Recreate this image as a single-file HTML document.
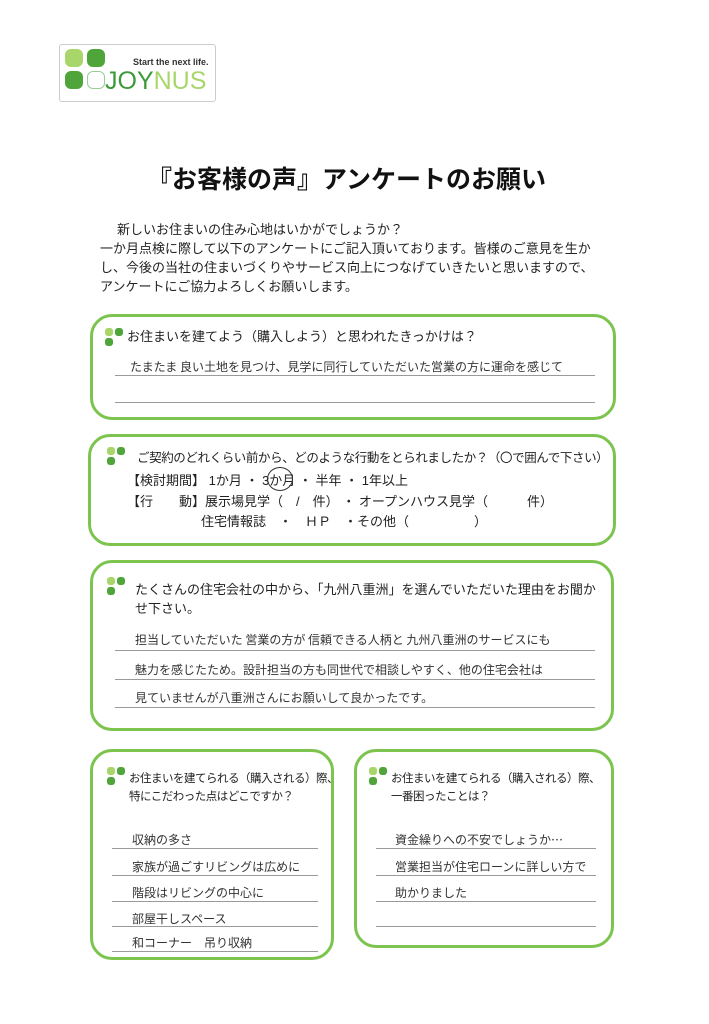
<!DOCTYPE html>
<html><head><meta charset="utf-8"><style>
body{margin:0;width:709px;height:1024px;background:#fff;position:relative;overflow:hidden;font-family:"Liberation Sans","Noto Sans CJK JP",sans-serif;color:#222}
.a{position:absolute;white-space:nowrap}
.box{position:absolute;border:3px solid #7cc44e;border-radius:22px;box-sizing:border-box}
.ic{position:absolute;width:18px;height:18px}
.ic i{position:absolute;width:8px;height:8px;border-radius:3px}
.ln{position:absolute;height:1px;background:#9a9a9a}
.hw{position:absolute;white-space:nowrap;font-family:"WenQuanYi Zen Hei","Noto Sans CJK JP",sans-serif;font-size:12px;color:#333}
.q{font-size:13px}
.s{font-size:11.5px;letter-spacing:-0.5px}
</style></head><body>
<div class="a" style="left:59px;top:44px;width:155px;height:56px;border:1px solid #ccc;border-radius:3px"></div>
<div class="a" style="left:65px;top:49px;width:18px;height:18px;background:#a9d66b;border-radius:6px"></div>
<div class="a" style="left:87px;top:49px;width:18px;height:18px;background:#4fa43a;border-radius:6px"></div>
<div class="a" style="left:65px;top:71px;width:18px;height:18px;background:#4fa43a;border-radius:6px"></div>
<div class="a" style="left:87px;top:71px;width:16px;height:16px;border:1px solid #9c9;border-radius:6px"></div>
<div class="a" style="left:133px;top:57px;font-size:9px;font-weight:bold;color:#333">Start the next life.</div>
<div class="a" style="left:105px;top:67px;font-size:25px;color:#3c9a3a">JOY<span style="color:#a9d66b">NUS</span></div>

<div class="a" style="left:147px;top:160px;font-size:25px;color:#111;font-weight:bold">『お客様の声』アンケートのお願い</div>
<div class="a" style="left:117px;top:219px;font-size:13px">新しいお住まいの住み心地はいかがでしょうか？</div>
<div class="a" style="left:100px;top:238px;font-size:13px">一か月点検に際して以下のアンケートにご記入頂いております。皆様のご意見を生か</div>
<div class="a" style="left:100px;top:257px;font-size:13px">し、今後の当社の住まいづくりやサービス向上につなげていきたいと思いますので、</div>
<div class="a" style="left:100px;top:276px;font-size:13px">アンケートにご協力よろしくお願いします。</div>

<div class="box" style="left:90px;top:314px;width:526px;height:106px"></div>
<div class="ic" style="left:105px;top:328px"><i style="left:0;top:0;background:#a9d66b"></i><i style="left:10px;top:0;background:#4fa43a"></i><i style="left:0;top:10px;background:#4fa43a"></i></div>
<div class="a q" style="left:127px;top:326px">お住まいを建てよう（購入しよう）と思われたきっかけは？</div>
<div class="hw" style="left:130px;top:358px">たまたま 良い土地を見つけ、見学に同行していただいた営業の方に運命を感じて</div>
<div class="ln" style="left:115px;top:375px;width:480px"></div>
<div class="ln" style="left:115px;top:402px;width:480px"></div>

<div class="box" style="left:88px;top:434px;width:528px;height:112px"></div>
<div class="ic" style="left:107px;top:447px"><i style="left:0;top:0;background:#a9d66b"></i><i style="left:10px;top:0;background:#4fa43a"></i><i style="left:0;top:10px;background:#4fa43a"></i></div>
<div class="a" style="left:137px;top:447px;font-size:12.5px;letter-spacing:-0.4px">ご契約のどれくらい前から、どのような行動をとられましたか？（〇で囲んで下さい）</div>
<div class="a q" style="left:127px;top:470px">【検討期間】 1か月 ・ 3か月 ・ 半年 ・ 1年以上</div>
<div class="a" style="left:267px;top:467px;width:24px;height:22px;border:1.5px solid #333;border-radius:50%"></div>
<div class="a q" style="left:127px;top:491px">【行　　動】展示場見学（　/　件） ・ オープンハウス見学（　　　件）</div>
<div class="a q" style="left:201px;top:511px">住宅情報誌　・　ＨＰ　・その他（　　　　　）</div>

<div class="box" style="left:90px;top:560px;width:524px;height:171px"></div>
<div class="ic" style="left:107px;top:577px"><i style="left:0;top:0;background:#a9d66b"></i><i style="left:10px;top:0;background:#4fa43a"></i><i style="left:0;top:10px;background:#4fa43a"></i></div>
<div class="a q" style="left:135px;top:579px">たくさんの住宅会社の中から、「九州八重洲」を選んでいただいた理由をお聞か</div>
<div class="a q" style="left:135px;top:598px">せ下さい。</div>
<div class="hw" style="left:135px;top:631px">担当していただいた 営業の方が 信頼できる人柄と 九州八重洲のサービスにも</div>
<div class="ln" style="left:115px;top:650px;width:480px"></div>
<div class="hw" style="left:135px;top:661px">魅力を感じたため。設計担当の方も同世代で相談しやすく、他の住宅会社は</div>
<div class="ln" style="left:115px;top:679px;width:480px"></div>
<div class="hw" style="left:135px;top:689px">見ていませんが八重洲さんにお願いして良かったです。</div>
<div class="ln" style="left:115px;top:707px;width:480px"></div>

<div class="box" style="left:90px;top:749px;width:244px;height:211px"></div>
<div class="ic" style="left:107px;top:767px"><i style="left:0;top:0;background:#a9d66b"></i><i style="left:10px;top:0;background:#4fa43a"></i><i style="left:0;top:10px;background:#4fa43a"></i></div>
<div class="a s" style="left:129px;top:770px">お住まいを建てられる（購入される）際、</div>
<div class="a s" style="left:129px;top:788px">特にこだわった点はどこですか？</div>
<div class="hw" style="left:132px;top:831px">収納の多さ</div>
<div class="ln" style="left:112px;top:848px;width:206px"></div>
<div class="hw" style="left:132px;top:858px">家族が過ごすリビングは広めに</div>
<div class="ln" style="left:112px;top:875px;width:206px"></div>
<div class="hw" style="left:132px;top:884px">階段はリビングの中心に</div>
<div class="ln" style="left:112px;top:901px;width:206px"></div>
<div class="hw" style="left:132px;top:910px">部屋干しスペース</div>
<div class="ln" style="left:112px;top:926px;width:206px"></div>
<div class="hw" style="left:132px;top:934px">和コーナー　吊り収納</div>
<div class="ln" style="left:112px;top:951px;width:206px"></div>

<div class="box" style="left:354px;top:749px;width:260px;height:199px"></div>
<div class="ic" style="left:369px;top:767px"><i style="left:0;top:0;background:#a9d66b"></i><i style="left:10px;top:0;background:#4fa43a"></i><i style="left:0;top:10px;background:#4fa43a"></i></div>
<div class="a s" style="left:391px;top:770px">お住まいを建てられる（購入される）際、</div>
<div class="a s" style="left:391px;top:788px">一番困ったことは？</div>
<div class="hw" style="left:395px;top:831px">資金繰りへの不安でしょうか…</div>
<div class="ln" style="left:376px;top:848px;width:220px"></div>
<div class="hw" style="left:395px;top:858px">営業担当が住宅ローンに詳しい方で</div>
<div class="ln" style="left:376px;top:875px;width:220px"></div>
<div class="hw" style="left:395px;top:884px">助かりました</div>
<div class="ln" style="left:376px;top:901px;width:220px"></div>
<div class="ln" style="left:376px;top:926px;width:220px"></div>
</body></html>
